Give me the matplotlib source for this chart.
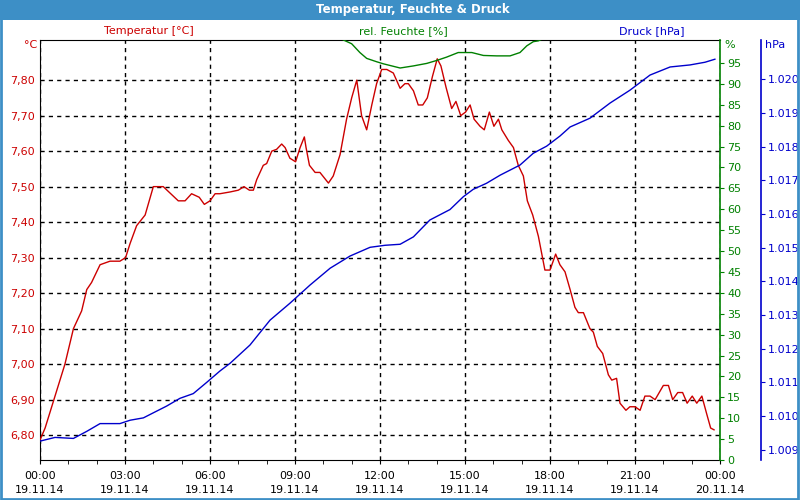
"""Temperatur, Feuchte & Druck - Tagesverlauf 19.11.14."""

import matplotlib
matplotlib.use("Agg")
import matplotlib.pyplot as plt
from matplotlib.patches import Rectangle
from matplotlib.ticker import FuncFormatter, MultipleLocator

# Temperatur [°C] over hours since 19.11.14 00:00
temp_hours = [0.0, 0.18, 0.53, 0.88, 1.18, 1.47, 1.65, 1.82, 2.12, 2.47, 2.82,
              3.02, 3.18, 3.41, 3.71, 4.0, 4.18, 4.35, 4.88, 5.12, 5.35, 5.62,
              5.8, 6.0, 6.18, 6.35, 6.71, 7.0, 7.2, 7.39, 7.53, 7.65, 7.88, 8.0,
              8.18, 8.35, 8.53, 8.65, 8.82, 9.02, 9.18, 9.33, 9.39, 9.51, 9.71,
              9.88, 10.18, 10.35, 10.59, 10.82, 11.0, 11.18, 11.35, 11.53, 11.71,
              11.88, 12.06, 12.24, 12.47, 12.71, 12.88, 13.0, 13.18, 13.35,
              13.51, 13.67, 13.85, 14.02, 14.15, 14.33, 14.53, 14.68, 14.85,
              15.02, 15.18, 15.32, 15.53, 15.68, 15.86, 16.02, 16.18, 16.3,
              16.53, 16.71, 16.88, 17.06, 17.2, 17.39, 17.59, 17.82, 18.0, 18.2,
              18.35, 18.53, 18.71, 18.88, 19.0, 19.18, 19.41, 19.53, 19.67,
              19.86, 20.06, 20.18, 20.35, 20.47, 20.68, 20.82, 21.0, 21.18,
              21.35, 21.53, 21.71, 22.0, 22.18, 22.33, 22.51, 22.68, 22.84,
              23.02, 23.18, 23.36, 23.53, 23.67, 23.79]
temp_vals = [6.786, 6.82, 6.91, 7.00, 7.10, 7.15, 7.21, 7.23, 7.28, 7.29, 7.29,
             7.30, 7.34, 7.39, 7.42, 7.50, 7.50, 7.50, 7.46, 7.46, 7.48, 7.47,
             7.45, 7.46, 7.48, 7.48, 7.485, 7.49, 7.50, 7.49, 7.49, 7.52, 7.56,
             7.565, 7.60, 7.605, 7.62, 7.61, 7.58, 7.57, 7.61, 7.64, 7.61, 7.56,
             7.54, 7.54, 7.51, 7.53, 7.59, 7.69, 7.75, 7.80, 7.70, 7.66, 7.73,
             7.79, 7.83, 7.83, 7.82, 7.777, 7.79, 7.79, 7.77, 7.73, 7.73, 7.75,
             7.81, 7.86, 7.84, 7.78, 7.72, 7.74, 7.70, 7.71, 7.73, 7.69, 7.67,
             7.66, 7.71, 7.67, 7.69, 7.66, 7.63, 7.61, 7.56, 7.53, 7.46, 7.42,
             7.36, 7.265, 7.265, 7.31, 7.28, 7.26, 7.21, 7.16, 7.145, 7.145,
             7.10, 7.09, 7.05, 7.03, 6.97, 6.955, 6.96, 6.89, 6.87, 6.88, 6.88,
             6.87, 6.91, 6.91, 6.90, 6.94, 6.94, 6.90, 6.92, 6.92, 6.89, 6.91,
             6.89, 6.91, 6.86, 6.82, 6.815]

# rel. Feuchte [%] (only the visible part, the rest lies above 100)
hum_hours = [10.5, 10.71, 11.0, 11.29, 11.53, 11.88, 12.12, 12.71, 13.18, 13.65,
             14.0, 14.35, 14.76, 15.24, 15.65, 16.12, 16.59, 16.94, 17.18,
             17.41, 17.59, 17.8]
hum_vals = [101.5, 100.5, 99.6, 97.5, 96.1, 95.3, 94.8, 93.8, 94.3, 94.9, 95.6,
            96.4, 97.5, 97.5, 96.8, 96.7, 96.7, 97.5, 99.1, 100.1, 100.3, 101.0]

# Druck [hPa]
press_hours = [0.0, 0.53, 1.18, 1.65, 2.12, 2.82, 3.18, 3.65, 4.0, 4.47, 4.94,
               5.41, 5.88, 6.35, 6.71, 7.41, 8.12, 8.82, 9.53, 10.24, 10.94,
               11.65, 12.18, 12.71, 13.18, 13.76, 14.47, 14.94, 15.29, 15.76,
               16.24, 16.59, 16.94, 17.41, 17.88, 18.35, 18.71, 19.41, 20.12,
               20.82, 21.53, 22.24, 22.94, 23.47, 23.82]
press_vals = [1009.26, 1009.37, 1009.34, 1009.55, 1009.78, 1009.78, 1009.88,
              1009.95, 1010.10, 1010.30, 1010.53, 1010.67, 1011.00, 1011.34,
              1011.57, 1012.11, 1012.85, 1013.35, 1013.89, 1014.39, 1014.75,
              1015.01, 1015.07, 1015.10, 1015.32, 1015.82, 1016.13, 1016.51,
              1016.73, 1016.91, 1017.15, 1017.30, 1017.45, 1017.80, 1018.01,
              1018.31, 1018.58, 1018.84, 1019.29, 1019.67, 1020.12, 1020.36,
              1020.42, 1020.50, 1020.59]

x_ticks = [0, 3, 6, 9, 12, 15, 18, 21, 24]
x_labels = ["00:00\n19.11.14", "03:00\n19.11.14", "06:00\n19.11.14",
            "09:00\n19.11.14", "12:00\n19.11.14", "15:00\n19.11.14",
            "18:00\n19.11.14", "21:00\n19.11.14", "00:00\n20.11.14"]
temp_ticks = [6.8, 6.9, 7.0, 7.1, 7.2, 7.3, 7.4, 7.5, 7.6, 7.7, 7.8]

RED = "#cc0000"
GREEN = "#008000"
BLUE = "#0000cc"
BAR = "#3d8fc6"

fig = plt.figure(figsize=(8, 5), dpi=100)
fig.patch.set_facecolor("white")

# title bar and window border
fig.patches.append(Rectangle((0, 0.96), 1, 0.04, transform=fig.transFigure,
                             facecolor=BAR, edgecolor="none", zorder=0))
fig.patches.append(Rectangle((0.001, 0.002), 0.997, 0.996, transform=fig.transFigure,
                             facecolor="none", edgecolor=BAR, lw=2, zorder=0))
fig.text(0.516, 0.98, "Temperatur, Feuchte & Druck", color="white",
         fontsize=8.5, fontweight="bold", ha="center", va="center")

ax = fig.add_axes([0.05, 0.08, 0.85, 0.84])
ax.plot(temp_hours, temp_vals, color=RED, lw=1, zorder=3)
ax.set_xlim(0, 24)
ax.set_ylim(6.73, 7.913)
ax.set_xticks(x_ticks)
ax.set_xticklabels(x_labels, fontsize=8, linespacing=1.45)
ax.xaxis.set_minor_locator(MultipleLocator(1))
ax.tick_params(axis="x", which="both", length=3, direction="out", pad=5)
ax.set_yticks(temp_ticks)
ax.yaxis.set_major_formatter(FuncFormatter(lambda v, p: f"{v:.2f}".replace(".", ",")))
ax.tick_params(axis="y", length=0, labelsize=8, labelcolor=RED, pad=4)
ax.grid(True, color="black", linestyle=(0, (3, 3)), lw=1)
for s in ["left", "top", "bottom"]:
    ax.spines[s].set_color("black")
ax.spines["right"].set_visible(False)

ax2 = ax.twinx()
ax2.plot(hum_hours, hum_vals, color=GREEN, lw=1)
ax2.set_ylim(0, 100.5)
ax2.set_yticks(range(0, 100, 5))
ax2.tick_params(axis="y", length=3, labelsize=8, colors=GREEN, pad=2)
ax2.spines["right"].set_color(GREEN)
ax2.spines["right"].set_linewidth(1.2)
for s in ["left", "top", "bottom"]:
    ax2.spines[s].set_visible(False)

ax3 = ax.twinx()
ax3.plot(press_hours, press_vals, color=BLUE, lw=1)
ax3.set_ylim(1008.7, 1021.16)
ax3.set_yticks(range(1009, 1021))
ax3.yaxis.set_major_formatter(FuncFormatter(lambda v, p: f"{v / 1000:.3f}"))
ax3.tick_params(axis="y", length=3, labelsize=8, colors=BLUE, pad=2)
ax3.spines["right"].set_position(("axes", 1.0603))
ax3.spines["right"].set_color(BLUE)
ax3.spines["right"].set_linewidth(1.2)
for s in ["left", "top", "bottom"]:
    ax3.spines[s].set_visible(False)

# series and unit labels
fig.text(0.186, 0.937, "Temperatur [°C]", color=RED, fontsize=8, ha="center", va="center")
fig.text(0.504, 0.937, "rel. Feuchte [%]", color=GREEN, fontsize=8, ha="center", va="center")
fig.text(0.815, 0.937, "Druck [hPa]", color=BLUE, fontsize=8, ha="center", va="center")
fig.text(0.046, 0.91, "°C", color=RED, fontsize=8, ha="right", va="center")
fig.text(0.906, 0.909, "%", color=GREEN, fontsize=8, ha="left", va="center")
fig.text(0.956, 0.91, "hPa", color=BLUE, fontsize=8, ha="left", va="center")

fig.savefig("out.png", dpi=100)
